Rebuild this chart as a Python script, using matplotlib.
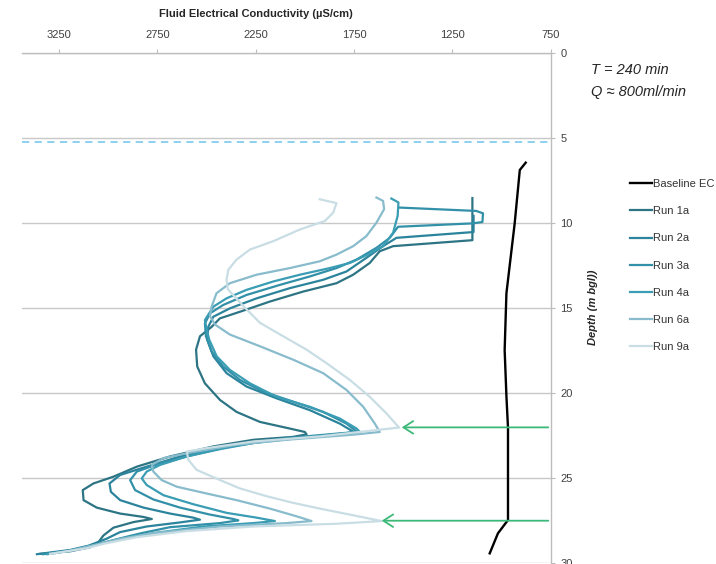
import matplotlib
matplotlib.use("Agg")
import matplotlib.pyplot as plt
from matplotlib.ticker import FixedLocator

plt.rcParams['font.family'] = ['Liberation Sans Narrow', 'Liberation Sans', 'DejaVu Sans']

# depth (m bgl) / fluid EC (uS/cm)
base_depth = [6.47, 6.9, 10.04, 14.15, 17.49, 20.2, 22.06, 27.49, 28.27, 29.45]
base_ec = [877, 907, 933, 975, 984, 975, 967, 967, 1018, 1060]

run1a_depth = [8.55, 11.03, 11.38, 11.68, 12.37, 13.06, 13.56, 14.05, 14.64, 15.24, 15.63, 16.13,
               16.68, 17.47, 18.46, 19.45, 20.43, 21.13, 21.72, 22.11, 22.31, 22.45, 22.6,
               22.77, 23.16, 23.75, 24.35, 24.94, 25.34, 25.73, 26.32, 26.76, 27.11, 27.31, 27.43,
               27.61, 27.94, 28.4, 28.79, 29.09, 29.33, 29.48]
run1a_ec = [1148, 1148, 1551, 1619, 1670, 1754, 1839, 2008, 2178, 2330, 2432, 2474,
            2533, 2553, 2547, 2508, 2431, 2347, 2228, 2076, 2000, 1991, 2060,
            2262, 2465, 2685, 2854, 2973, 3075, 3129, 3125, 3058, 2939, 2820, 2778,
            2871, 2973, 3024, 3049, 3091, 3193, 3345]

run2a_depth = [9.6, 10.55, 10.89, 11.38, 12.07, 12.87, 13.36, 13.85, 14.45, 15.04, 15.53, 16.13,
               16.88, 17.86, 18.85, 19.64, 20.33, 21.03, 21.82, 22.31, 22.47, 22.81, 23.26,
               23.75, 24.35, 24.84, 25.34, 25.83, 26.32, 26.76, 27.11, 27.35, 27.47, 27.63,
               27.87, 28.2, 28.6, 29.0, 29.25, 29.5]
run2a_ec = [1142, 1142, 1534, 1602, 1687, 1788, 1907, 2076, 2245, 2381, 2465, 2491,
            2496, 2465, 2398, 2296, 2144, 1974, 1822, 1751, 1839, 2177, 2431,
            2634, 2804, 2939, 2993, 2986, 2939, 2820, 2685, 2567, 2533, 2634,
            2804, 2939, 3010, 3100, 3193, 3362]

run3a_depth = [9.11, 9.31, 9.45, 9.96, 10.04, 10.24, 10.89, 11.48, 12.17, 12.67, 13.16, 13.66,
               14.25, 14.84, 15.33, 15.93, 16.68, 17.57, 18.46, 19.25, 19.94, 20.53, 21.13,
               21.82, 22.31, 22.41, 22.67, 23.06, 23.66, 24.15, 24.64, 25.14, 25.73, 26.28,
               26.76, 27.17, 27.43, 27.51, 27.67, 27.91, 28.26, 28.6, 29.0, 29.3, 29.5]
run3a_ec = [1521, 1128, 1094, 1097, 1145, 1526, 1568, 1636, 1737, 1839, 1974, 2127,
            2296, 2415, 2482, 2508, 2503, 2474, 2415, 2330, 2211, 2059, 1907,
            1788, 1734, 1839, 2093, 2347, 2567, 2736, 2854, 2888, 2863, 2770,
            2634, 2482, 2363, 2338, 2431, 2685, 2830, 2950, 3080, 3200, 3330]

run4a_depth = [8.58, 8.81, 9.6, 10.59, 11.38, 11.82, 12.37, 12.67, 13.06, 13.46, 13.95, 14.45,
               14.94, 15.73, 16.28, 16.88, 17.86, 18.66, 19.45, 20.24, 20.83, 21.52, 22.11,
               22.31, 22.53, 22.96, 23.32, 23.75, 24.25, 24.64, 25.04, 25.43, 26.03, 26.56,
               27.07, 27.35, 27.55, 27.67, 27.87, 28.26, 28.6, 28.93, 29.29, 29.5]
run4a_ec = [1560, 1524, 1528, 1551, 1602, 1670, 1771, 1873, 2025, 2161, 2296, 2398,
            2465, 2508, 2499, 2486, 2448, 2381, 2279, 2144, 1974, 1822, 1737,
            1720, 1923, 2262, 2431, 2600, 2736, 2804, 2829, 2804, 2719, 2567,
            2397, 2245, 2152, 2262, 2516, 2770, 2939, 3058, 3193, 3310]

run6a_depth = [8.52, 8.72, 9.21, 10.0, 10.79, 11.38, 11.88, 12.27, 12.67, 13.06, 13.56, 14.15,
               14.94, 15.49, 15.99, 16.58, 17.27, 18.06, 18.85, 19.84, 20.83, 21.82, 22.31,
               22.47, 22.77, 23.06, 23.56, 23.85, 24.25, 24.64, 25.14, 25.53, 25.93, 26.32,
               26.82, 27.27, 27.55, 27.67, 27.87, 28.26, 28.6, 28.93, 29.29, 29.48]
run6a_ec = [1636, 1602, 1597, 1636, 1687, 1754, 1839, 1924, 2076, 2245, 2381, 2449,
            2474, 2482, 2457, 2381, 2228, 2059, 1907, 1788, 1703, 1644, 1619,
            1754, 2093, 2347, 2600, 2719, 2778, 2770, 2728, 2651, 2499, 2347,
            2177, 2042, 1966, 2093, 2431, 2770, 2939, 3058, 3193, 3295]

run9a_depth = [8.62, 8.85, 9.41, 9.9, 10.4, 11.09, 11.58, 12.17, 12.77, 13.36, 13.9, 14.9,
               15.89, 16.68, 17.47, 18.26, 19.25, 20.24, 21.22, 22.05, 22.57, 22.87, 23.26,
               23.46, 23.95, 24.54, 25.14, 25.63, 26.09, 26.48, 26.82, 27.21, 27.55, 27.71,
               27.87, 28.14, 28.5, 28.89, 29.15, 29.39, 29.48]
run9a_ec = [1924, 1839, 1856, 1898, 2025, 2161, 2279, 2347, 2389, 2398, 2392, 2313,
            2228, 2110, 1991, 1890, 1771, 1670, 1585, 1521, 1923, 2262, 2499,
            2600, 2592, 2550, 2431, 2330, 2194, 2059, 1923, 1754, 1610, 1839,
            2262, 2600, 2854, 3024, 3108, 3244, 3295]

run_labels = ['Run 1a', 'Run 2a', 'Run 3a', 'Run 4a', 'Run 6a', 'Run 9a']
run_colours = ['#2d7585', '#2c849c', '#3290a8', '#3a9db4', '#88bccc', '#c9dde4']
runs = [(run1a_ec, run1a_depth), (run2a_ec, run2a_depth), (run3a_ec, run3a_depth),
        (run4a_ec, run4a_depth), (run6a_ec, run6a_depth), (run9a_ec, run9a_depth)]

water_level = 5.25
arrow_depths = [22.04, 27.53]
arrow_tips = [1507, 1609]

fig = plt.figure(figsize=(7.16, 5.64), dpi=100)
ax = fig.add_axes([0.0307, 0.0023, 0.7384, 0.9043])

ax.plot(base_ec, base_depth, color='black', lw=1.7, label='Baseline EC', zorder=4)
for (ec, dep), lab, col in zip(runs, run_labels, run_colours):
    ax.plot(ec, dep, color=col, lw=1.6, label=lab, zorder=3)

ax.axhline(water_level, color='#86cdef', lw=1.3, ls=(0, (4, 3)), zorder=2)

for d, tip in zip(arrow_depths, arrow_tips):
    ax.annotate('', xy=(tip, d), xytext=(762, d),
                arrowprops=dict(arrowstyle='->,head_length=0.7,head_width=0.45',
                                color='#3cb878', lw=1.3, shrinkA=0, shrinkB=0), zorder=5)

ax.set_xlim(3438, 750)
ax.set_ylim(30, 0)
ax.xaxis.tick_top()
ax.yaxis.tick_right()
ax.xaxis.set_major_locator(FixedLocator([3250, 2750, 2250, 1750, 1250, 750]))
ax.yaxis.set_major_locator(FixedLocator([0, 5, 10, 15, 20, 25, 30]))
ax.grid(axis='y', color='#c8c8c8', lw=1.0)
ax.set_axisbelow(True)
for s in ['left', 'bottom']:
    ax.spines[s].set_visible(False)
for s in ['top', 'right']:
    ax.spines[s].set_color('#bdbdbd')
    ax.spines[s].set_linewidth(1.0)
ax.tick_params(axis='x', colors='#bdbdbd', labelcolor='#404040', labelsize=8, length=3, pad=6)
ax.tick_params(axis='y', colors='#bdbdbd', labelcolor='#404040', labelsize=8, length=3, pad=4)

ax.text(2250, 1.075, 'Fluid Electrical Conductivity (µS/cm)', transform=ax.get_xaxis_transform(),
        ha='center', va='center', fontsize=8, fontweight='bold', color='#262626')

ax.yaxis.set_label_position('right')
ax.set_ylabel('Depth (m bgl))', fontsize=8, fontweight='bold', fontstyle='italic', color='#262626')
ax.yaxis.set_label_coords(1.0705, 0.5)

fig.text(591 / 716, 1 - 70 / 564, 'T = 240 min', fontsize=10.5, fontstyle='italic',
         ha='left', va='center', color='#262626')
fig.text(591 / 716, 1 - 92 / 564, 'Q ≈ 800ml/min', fontsize=10.5, fontstyle='italic',
         ha='left', va='center', color='#262626')

leg = ax.legend(loc='upper left', bbox_to_anchor=(630 / 716, 1 - 179 / 564),
                bbox_transform=fig.transFigure, frameon=False, fontsize=8,
                handlelength=2.0, handletextpad=0.1, labelspacing=1.55,
                borderpad=0, borderaxespad=0)
for t in leg.get_texts():
    t.set_color('#333333')

fig.savefig('out.png', dpi=100)
